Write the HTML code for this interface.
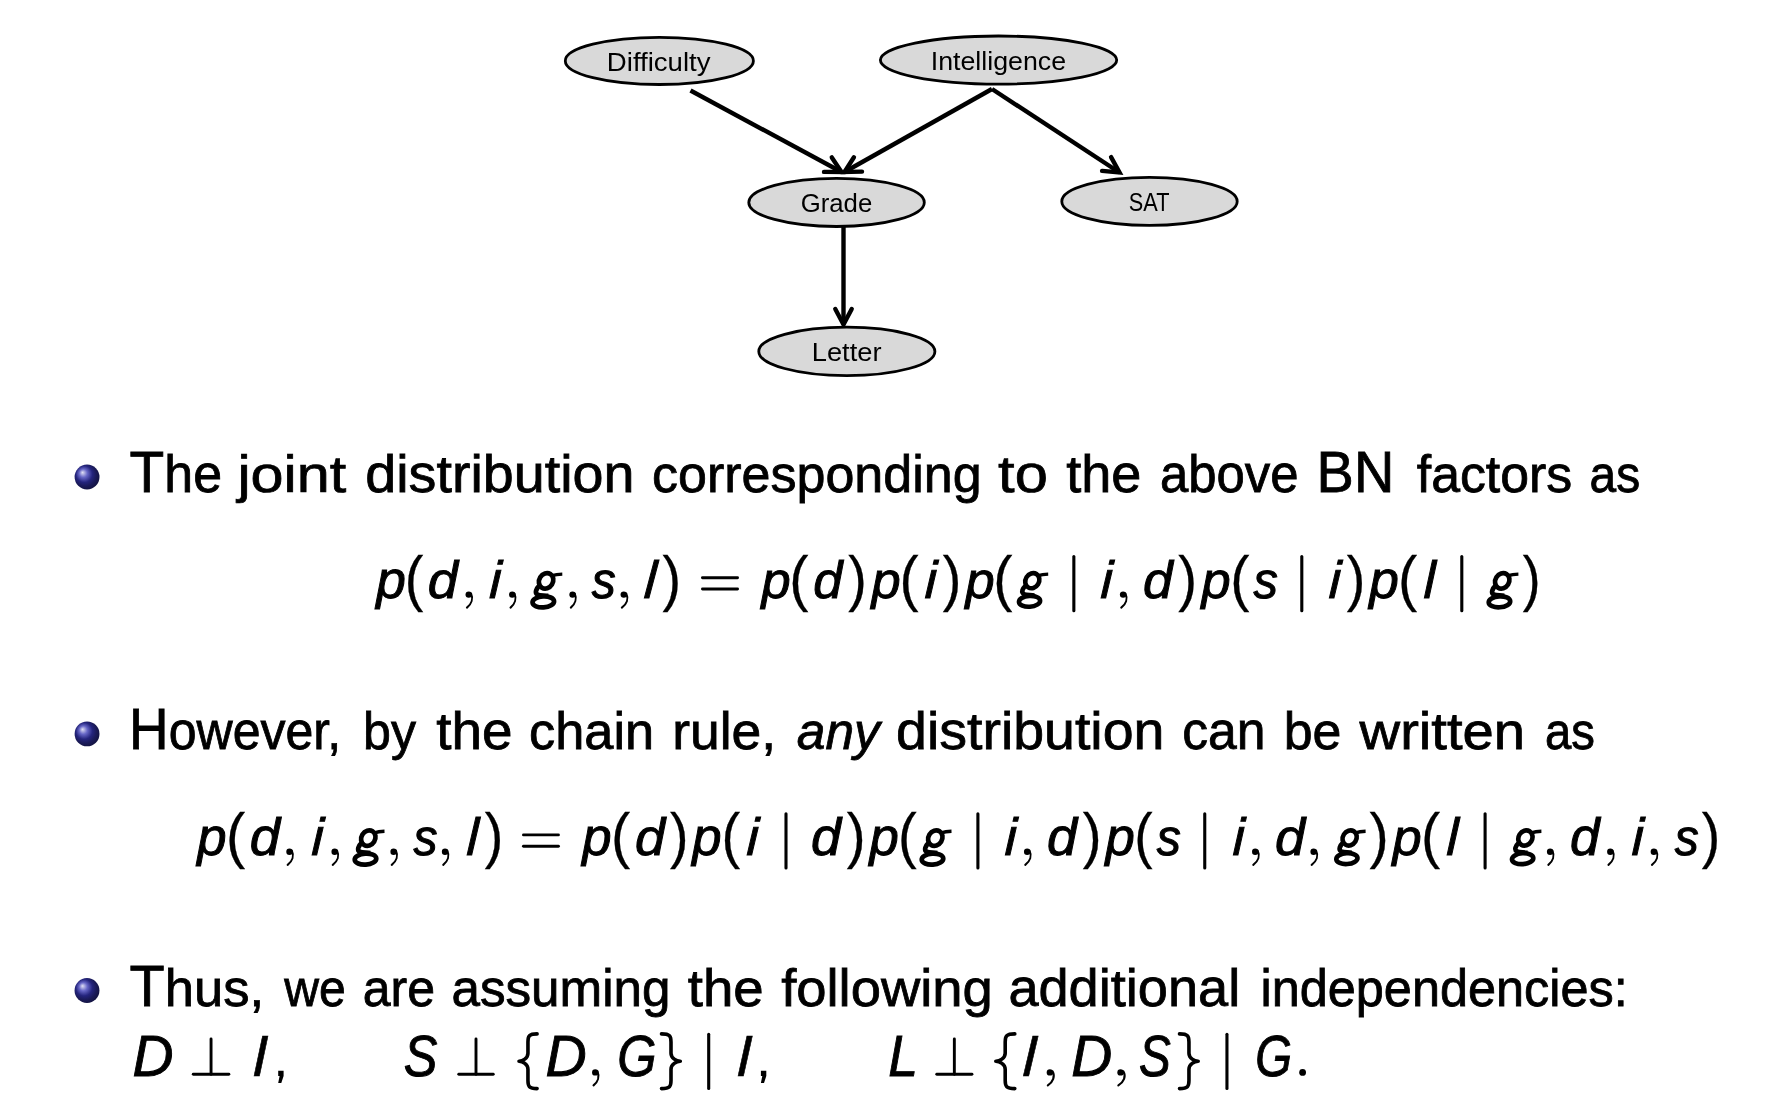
<!DOCTYPE html>
<html><head><meta charset="utf-8"><style>
html,body{margin:0;padding:0;background:#fff;width:1766px;height:1106px;overflow:hidden}
svg{display:block;will-change:transform}
text{font-family:"Liberation Sans",sans-serif;fill:#000}
text.i{font-style:italic}
</style></head><body>
<svg width="1766" height="1106" viewBox="0 0 1766 1106">
<line x1="690.50" y1="90.50" x2="841.50" y2="172.00" stroke="#000" stroke-width="4.4"/>
<polyline points="831.80,157.43 841.50,172.00 824.00,171.89" fill="none" stroke="#000" stroke-width="4.4" stroke-linecap="round" stroke-linejoin="miter"/>
<line x1="992.00" y1="89.00" x2="844.50" y2="172.00" stroke="#000" stroke-width="4.4"/>
<polyline points="862.00,171.58 844.50,172.00 853.94,157.26" fill="none" stroke="#000" stroke-width="4.4" stroke-linecap="round" stroke-linejoin="miter"/>
<line x1="992.00" y1="89.00" x2="1119.50" y2="172.50" stroke="#000" stroke-width="4.4"/>
<polyline points="1111.07,157.16 1119.50,172.50 1102.07,170.91" fill="none" stroke="#000" stroke-width="4.4" stroke-linecap="round" stroke-linejoin="miter"/>
<line x1="843.50" y1="227.00" x2="843.50" y2="324.50" stroke="#000" stroke-width="4.4"/>
<polyline points="851.72,309.05 843.50,324.50 835.28,309.05" fill="none" stroke="#000" stroke-width="4.4" stroke-linecap="round" stroke-linejoin="miter"/>
<ellipse cx="659.35" cy="60.90" rx="94.05" ry="23.60" fill="#d9d9d9" stroke="#000" stroke-width="2.8"/>
<text class="r" font-size="25" transform="matrix(1.1033 0 0 1 606.84 71.40)">Difficulty</text>
<ellipse cx="998.55" cy="60.10" rx="118.15" ry="24.10" fill="#d9d9d9" stroke="#000" stroke-width="2.8"/>
<text class="r" font-size="25" transform="matrix(1.0710 0 0 1 930.73 69.70)">Intelligence</text>
<ellipse cx="836.55" cy="202.45" rx="87.75" ry="24.05" fill="#d9d9d9" stroke="#000" stroke-width="2.8"/>
<text class="r" font-size="25" transform="matrix(1.0296 0 0 1 800.71 211.70)">Grade</text>
<ellipse cx="1149.50" cy="201.40" rx="87.70" ry="24.00" fill="#d9d9d9" stroke="#000" stroke-width="2.8"/>
<text class="r" font-size="25" transform="matrix(0.8697 0 0 1 1128.81 211.20)">SAT</text>
<ellipse cx="846.85" cy="351.40" rx="88.05" ry="24.20" fill="#d9d9d9" stroke="#000" stroke-width="2.8"/>
<text class="r" font-size="25" transform="matrix(1.0917 0 0 1 811.76 361.20)">Letter</text>
<defs><radialGradient id="ball477" gradientUnits="userSpaceOnUse" cx="87.05" cy="477.05" r="23.00" fx="82.45" fy="472.45"><stop offset="0" stop-color="#e0e0f4"/><stop offset="0.18" stop-color="#6666c6"/><stop offset="0.36" stop-color="#24247d"/><stop offset="0.5" stop-color="#1a1a59"/><stop offset="1" stop-color="#000"/></radialGradient></defs>
<circle cx="87.05" cy="477.05" r="12.45" fill="url(#ball477)"/>
<defs><radialGradient id="ball733" gradientUnits="userSpaceOnUse" cx="87.05" cy="733.9" r="23.00" fx="82.45" fy="729.30"><stop offset="0" stop-color="#e0e0f4"/><stop offset="0.18" stop-color="#6666c6"/><stop offset="0.36" stop-color="#24247d"/><stop offset="0.5" stop-color="#1a1a59"/><stop offset="1" stop-color="#000"/></radialGradient></defs>
<circle cx="87.05" cy="733.9" r="12.45" fill="url(#ball733)"/>
<defs><radialGradient id="ball990" gradientUnits="userSpaceOnUse" cx="87.0" cy="990.5" r="23.00" fx="82.40" fy="985.90"><stop offset="0" stop-color="#e0e0f4"/><stop offset="0.18" stop-color="#6666c6"/><stop offset="0.36" stop-color="#24247d"/><stop offset="0.5" stop-color="#1a1a59"/><stop offset="1" stop-color="#000"/></radialGradient></defs>
<circle cx="87.0" cy="990.5" r="12.45" fill="url(#ball990)"/>
<text class="r" font-size="52" transform="matrix(0.9970 0 0 1 129.62 492.30)" stroke="#000" stroke-width="0.80" vector-effect="non-scaling-stroke"><tspan font-size="57.0">T</tspan>he</text>
<text class="r" font-size="52" transform="matrix(1.1404 0 0 1 237.45 492.30)" stroke="#000" stroke-width="0.80" vector-effect="non-scaling-stroke">joint</text>
<text class="r" font-size="52" transform="matrix(1.0707 0 0 1 365.26 492.30)" stroke="#000" stroke-width="0.80" vector-effect="non-scaling-stroke">distribution</text>
<text class="r" font-size="52" transform="matrix(1.0004 0 0 1 651.99 492.30)" stroke="#000" stroke-width="0.80" vector-effect="non-scaling-stroke">corresponding</text>
<text class="r" font-size="52" transform="matrix(1.1486 0 0 1 998.10 492.30)" stroke="#000" stroke-width="0.80" vector-effect="non-scaling-stroke">to</text>
<text class="r" font-size="52" transform="matrix(1.0392 0 0 1 1066.18 492.30)" stroke="#000" stroke-width="0.80" vector-effect="non-scaling-stroke">the</text>
<text class="r" font-size="52" transform="matrix(0.9784 0 0 1 1159.94 492.30)" stroke="#000" stroke-width="0.80" vector-effect="non-scaling-stroke">above</text>
<text class="r" font-size="52" transform="matrix(0.9806 0 0 1 1316.62 492.30)" stroke="#000" stroke-width="0.80" vector-effect="non-scaling-stroke"><tspan font-size="57.0">BN</tspan></text>
<text class="r" font-size="52" transform="matrix(0.9965 0 0 1 1416.77 492.30)" stroke="#000" stroke-width="0.80" vector-effect="non-scaling-stroke">factors</text>
<text class="r" font-size="52" transform="matrix(0.9207 0 0 1 1589.57 492.30)" stroke="#000" stroke-width="0.80" vector-effect="non-scaling-stroke">as</text>
<text class="r" font-size="52" transform="matrix(0.9622 0 0 1 129.10 749.30)" stroke="#000" stroke-width="0.80" vector-effect="non-scaling-stroke"><tspan font-size="57.0">H</tspan>owever,</text>
<text class="r" font-size="52" transform="matrix(0.9637 0 0 1 363.07 749.30)" stroke="#000" stroke-width="0.80" vector-effect="non-scaling-stroke">by</text>
<text class="r" font-size="52" transform="matrix(1.0551 0 0 1 436.27 749.30)" stroke="#000" stroke-width="0.80" vector-effect="non-scaling-stroke">the</text>
<text class="r" font-size="52" transform="matrix(1.0065 0 0 1 529.08 749.30)" stroke="#000" stroke-width="0.80" vector-effect="non-scaling-stroke">chain</text>
<text class="r" font-size="52" transform="matrix(1.0287 0 0 1 672.15 749.30)" stroke="#000" stroke-width="0.80" vector-effect="non-scaling-stroke">rule,</text>
<text class="i" font-size="52" transform="matrix(0.9896 0 0 1 796.84 749.30)" stroke="#000" stroke-width="0.80" vector-effect="non-scaling-stroke">any</text>
<text class="r" font-size="52" transform="matrix(1.0675 0 0 1 896.07 749.30)" stroke="#000" stroke-width="0.80" vector-effect="non-scaling-stroke">distribution</text>
<text class="r" font-size="52" transform="matrix(0.9942 0 0 1 1182.20 749.30)" stroke="#000" stroke-width="0.80" vector-effect="non-scaling-stroke">can</text>
<text class="r" font-size="52" transform="matrix(0.9985 0 0 1 1283.75 749.30)" stroke="#000" stroke-width="0.80" vector-effect="non-scaling-stroke">be</text>
<text class="r" font-size="52" transform="matrix(1.0804 0 0 1 1359.58 749.30)" stroke="#000" stroke-width="0.80" vector-effect="non-scaling-stroke">written</text>
<text class="r" font-size="52" transform="matrix(0.9089 0 0 1 1544.89 749.30)" stroke="#000" stroke-width="0.80" vector-effect="non-scaling-stroke">as</text>
<text class="r" font-size="52" transform="matrix(1.0106 0 0 1 129.51 1006.10)" stroke="#000" stroke-width="0.80" vector-effect="non-scaling-stroke"><tspan font-size="57.0">T</tspan>hus,</text>
<text class="r" font-size="52" transform="matrix(0.9262 0 0 1 284.27 1006.10)" stroke="#000" stroke-width="0.80" vector-effect="non-scaling-stroke">we</text>
<text class="r" font-size="52" transform="matrix(0.9627 0 0 1 362.77 1006.10)" stroke="#000" stroke-width="0.80" vector-effect="non-scaling-stroke">are</text>
<text class="r" font-size="52" transform="matrix(0.9848 0 0 1 451.42 1006.10)" stroke="#000" stroke-width="0.80" vector-effect="non-scaling-stroke">assuming</text>
<text class="r" font-size="52" transform="matrix(1.0507 0 0 1 687.77 1006.10)" stroke="#000" stroke-width="0.80" vector-effect="non-scaling-stroke">the</text>
<text class="r" font-size="52" transform="matrix(1.0467 0 0 1 781.13 1006.10)" stroke="#000" stroke-width="0.80" vector-effect="non-scaling-stroke">following</text>
<text class="r" font-size="52" transform="matrix(1.0413 0 0 1 1008.40 1006.10)" stroke="#000" stroke-width="0.80" vector-effect="non-scaling-stroke">additional</text>
<text class="r" font-size="52" transform="matrix(0.9700 0 0 1 1260.43 1006.10)" stroke="#000" stroke-width="0.80" vector-effect="non-scaling-stroke">independencies:</text>
<text class="i" font-size="52.5" transform="matrix(1.0134 0 0 1 376.22 598.00)" stroke="#000" stroke-width="1.00" vector-effect="non-scaling-stroke">p</text>
<text class="r" font-size="1" transform="matrix(55.8203 0 0 61.5044 404.84 599.27)" stroke="#000" stroke-width="0.30" vector-effect="non-scaling-stroke">(</text>
<text class="i" font-size="52.5" transform="matrix(1.0342 0 0 1 427.67 598.00)" stroke="#000" stroke-width="1.00" vector-effect="non-scaling-stroke">d</text>
<circle cx="468.73" cy="594.60" r="3.2" fill="#000"/>
<path d="M471.00,593.50 C473.34,598.50 471.57,604.00 466.96,607.60" fill="none" stroke="#000" stroke-width="2.1" stroke-linecap="round"/>
<text class="i" font-size="52.5" transform="matrix(1 0 -0.0395 1 489.05 598.00)" stroke="#000" stroke-width="1.00" vector-effect="non-scaling-stroke">i</text>
<circle cx="512.24" cy="594.60" r="3.2" fill="#000"/>
<path d="M514.42,593.50 C516.66,598.50 514.96,604.00 510.54,607.60" fill="none" stroke="#000" stroke-width="2.1" stroke-linecap="round"/>
<ellipse cx="546.10" cy="580.90" rx="6.90" ry="8.00" transform="rotate(32 546.10 580.90)" fill="none" stroke="#000" stroke-width="4.70"/>
<path d="M551.10,575.90 C555.10,574.70 558.10,574.20 562.30,574.10" fill="none" stroke="#000" stroke-width="3.40"/>
<path d="M539.70,585.30 C536.10,588.80 534.40,592.80 537.60,594.60 C540.10,595.60 544.10,595.30 548.10,595.90" fill="none" stroke="#000" stroke-width="4.70"/>
<ellipse cx="543.30" cy="601.90" rx="10.80" ry="5.50" transform="rotate(-4 543.30 601.90)" fill="none" stroke="#000" stroke-width="4.70"/>
<circle cx="572.54" cy="594.60" r="3.2" fill="#000"/>
<path d="M574.72,593.50 C576.96,598.50 575.26,604.00 570.84,607.60" fill="none" stroke="#000" stroke-width="2.1" stroke-linecap="round"/>
<text class="i" font-size="52.5" transform="matrix(0.9143 0 0 1 591.68 598.00)" stroke="#000" stroke-width="1.00" vector-effect="non-scaling-stroke">s</text>
<circle cx="623.78" cy="594.60" r="3.2" fill="#000"/>
<path d="M626.21,593.50 C628.72,598.50 626.82,604.00 621.88,607.60" fill="none" stroke="#000" stroke-width="2.1" stroke-linecap="round"/>
<text class="i" font-size="52.5" transform="matrix(1 0 -0.0711 1 643.45 598.00)" stroke="#000" stroke-width="1.00" vector-effect="non-scaling-stroke">l</text>
<text class="r" font-size="1" transform="matrix(55.8203 0 0 61.5044 662.57 599.27)" stroke="#000" stroke-width="0.30" vector-effect="non-scaling-stroke">)</text>
<line x1="702.45" y1="577.70" x2="737.55" y2="577.70" stroke="#000" stroke-width="2.9" stroke-linecap="round"/>
<line x1="702.45" y1="589.05" x2="737.55" y2="589.05" stroke="#000" stroke-width="2.9" stroke-linecap="round"/>
<text class="i" font-size="52.5" transform="matrix(0.9995 0 0 1 761.61 598.00)" stroke="#000" stroke-width="1.00" vector-effect="non-scaling-stroke">p</text>
<text class="r" font-size="1" transform="matrix(57.7061 0 0 61.5044 789.32 599.27)" stroke="#000" stroke-width="0.30" vector-effect="non-scaling-stroke">(</text>
<text class="i" font-size="52.5" transform="matrix(0.9995 0 0 1 813.23 598.00)" stroke="#000" stroke-width="1.00" vector-effect="non-scaling-stroke">d</text>
<text class="r" font-size="1" transform="matrix(55.8203 0 0 61.5044 848.27 599.27)" stroke="#000" stroke-width="0.30" vector-effect="non-scaling-stroke">)</text>
<text class="i" font-size="52.5" transform="matrix(0.9995 0 0 1 871.51 598.00)" stroke="#000" stroke-width="1.00" vector-effect="non-scaling-stroke">p</text>
<text class="r" font-size="1" transform="matrix(57.3289 0 0 61.5044 899.44 599.27)" stroke="#000" stroke-width="0.30" vector-effect="non-scaling-stroke">(</text>
<text class="i" font-size="52.5" transform="matrix(1 0 -0.0395 1 924.45 598.00)" stroke="#000" stroke-width="1.00" vector-effect="non-scaling-stroke">i</text>
<text class="r" font-size="1" transform="matrix(55.8203 0 0 61.5044 942.67 599.27)" stroke="#000" stroke-width="0.30" vector-effect="non-scaling-stroke">)</text>
<text class="i" font-size="52.5" transform="matrix(0.9995 0 0 1 965.61 598.00)" stroke="#000" stroke-width="1.00" vector-effect="non-scaling-stroke">p</text>
<text class="r" font-size="1" transform="matrix(57.7061 0 0 61.5044 993.32 599.27)" stroke="#000" stroke-width="0.30" vector-effect="non-scaling-stroke">(</text>
<ellipse cx="1032.30" cy="580.72" rx="6.77" ry="7.85" transform="rotate(32 1032.30 580.72)" fill="none" stroke="#000" stroke-width="4.61"/>
<path d="M1037.21,575.81 C1041.14,574.64 1044.08,574.15 1048.20,574.05" fill="none" stroke="#000" stroke-width="3.34"/>
<path d="M1026.02,585.04 C1022.49,588.47 1020.82,592.40 1023.96,594.17 C1026.41,595.15 1030.34,594.85 1034.27,595.44" fill="none" stroke="#000" stroke-width="4.61"/>
<ellipse cx="1029.55" cy="601.33" rx="10.60" ry="5.40" transform="rotate(-4 1029.55 601.33)" fill="none" stroke="#000" stroke-width="4.61"/>
<line x1="1073.85" y1="556.50" x2="1073.85" y2="610.70" stroke="#000" stroke-width="3.1" stroke-linecap="round"/>
<text class="i" font-size="52.5" transform="matrix(1 0 -0.0421 1 1100.15 598.00)" stroke="#000" stroke-width="1.00" vector-effect="non-scaling-stroke">i</text>
<circle cx="1123.09" cy="594.60" r="3.2" fill="#000"/>
<path d="M1125.43,593.50 C1127.84,598.50 1126.01,604.00 1121.27,607.60" fill="none" stroke="#000" stroke-width="2.1" stroke-linecap="round"/>
<text class="i" font-size="52.5" transform="matrix(1.0169 0 0 1 1142.90 598.00)" stroke="#000" stroke-width="1.00" vector-effect="non-scaling-stroke">d</text>
<text class="r" font-size="1" transform="matrix(56.5746 0 0 61.5044 1178.27 599.27)" stroke="#000" stroke-width="0.30" vector-effect="non-scaling-stroke">)</text>
<text class="i" font-size="52.5" transform="matrix(0.9995 0 0 1 1201.61 598.00)" stroke="#000" stroke-width="1.00" vector-effect="non-scaling-stroke">p</text>
<text class="r" font-size="1" transform="matrix(57.7061 0 0 61.5044 1230.22 599.27)" stroke="#000" stroke-width="0.30" vector-effect="non-scaling-stroke">(</text>
<text class="i" font-size="52.5" transform="matrix(0.9303 0 0 1 1253.58 598.00)" stroke="#000" stroke-width="1.00" vector-effect="non-scaling-stroke">s</text>
<line x1="1301.80" y1="556.50" x2="1301.80" y2="610.70" stroke="#000" stroke-width="3.1" stroke-linecap="round"/>
<text class="i" font-size="52.5" transform="matrix(1 0 -0.0421 1 1328.45 598.00)" stroke="#000" stroke-width="1.00" vector-effect="non-scaling-stroke">i</text>
<text class="r" font-size="1" transform="matrix(55.8203 0 0 61.5044 1346.77 599.27)" stroke="#000" stroke-width="0.30" vector-effect="non-scaling-stroke">)</text>
<text class="i" font-size="52.5" transform="matrix(1.0134 0 0 1 1369.32 598.00)" stroke="#000" stroke-width="1.00" vector-effect="non-scaling-stroke">p</text>
<text class="r" font-size="1" transform="matrix(57.7061 0 0 61.5044 1397.92 599.27)" stroke="#000" stroke-width="0.30" vector-effect="non-scaling-stroke">(</text>
<text class="i" font-size="52.5" transform="matrix(1 0 -0.0211 1 1423.55 598.00)" stroke="#000" stroke-width="1.00" vector-effect="non-scaling-stroke">l</text>
<line x1="1461.80" y1="556.50" x2="1461.80" y2="610.70" stroke="#000" stroke-width="3.1" stroke-linecap="round"/>
<ellipse cx="1502.25" cy="580.87" rx="6.88" ry="7.98" transform="rotate(32 1502.25 580.87)" fill="none" stroke="#000" stroke-width="4.69"/>
<path d="M1507.23,575.89 C1511.22,574.69 1514.21,574.19 1518.40,574.09" fill="none" stroke="#000" stroke-width="3.39"/>
<path d="M1495.87,585.26 C1492.28,588.75 1490.59,592.73 1493.78,594.53 C1496.27,595.52 1500.26,595.23 1504.24,595.82" fill="none" stroke="#000" stroke-width="4.69"/>
<ellipse cx="1499.46" cy="601.81" rx="10.77" ry="5.48" transform="rotate(-4 1499.46 601.81)" fill="none" stroke="#000" stroke-width="4.69"/>
<text class="r" font-size="1" transform="matrix(53.5573 0 0 61.5044 1522.69 599.27)" stroke="#000" stroke-width="0.30" vector-effect="non-scaling-stroke">)</text>
<text class="i" font-size="52.5" transform="matrix(1.0030 0 0 1 197.31 855.20)" stroke="#000" stroke-width="1.00" vector-effect="non-scaling-stroke">p</text>
<text class="r" font-size="1" transform="matrix(57.7061 0 0 61.5044 225.92 856.47)" stroke="#000" stroke-width="0.30" vector-effect="non-scaling-stroke">(</text>
<text class="i" font-size="52.5" transform="matrix(1.0377 0 0 1 249.76 855.20)" stroke="#000" stroke-width="1.00" vector-effect="non-scaling-stroke">d</text>
<circle cx="289.49" cy="851.80" r="3.2" fill="#000"/>
<path d="M291.83,850.70 C294.24,855.70 292.41,861.20 287.67,864.80" fill="none" stroke="#000" stroke-width="2.1" stroke-linecap="round"/>
<text class="i" font-size="52.5" transform="matrix(1 0 -0.0395 1 311.25 855.20)" stroke="#000" stroke-width="1.00" vector-effect="non-scaling-stroke">i</text>
<circle cx="334.65" cy="851.80" r="3.2" fill="#000"/>
<path d="M337.05,850.70 C339.52,855.70 337.65,861.20 332.77,864.80" fill="none" stroke="#000" stroke-width="2.1" stroke-linecap="round"/>
<ellipse cx="368.30" cy="838.10" rx="6.90" ry="8.00" transform="rotate(32 368.30 838.10)" fill="none" stroke="#000" stroke-width="4.70"/>
<path d="M373.30,833.10 C377.30,831.90 380.30,831.40 384.50,831.30" fill="none" stroke="#000" stroke-width="3.40"/>
<path d="M361.90,842.50 C358.30,846.00 356.60,850.00 359.80,851.80 C362.30,852.80 366.30,852.50 370.30,853.10" fill="none" stroke="#000" stroke-width="4.70"/>
<ellipse cx="365.50" cy="859.10" rx="10.80" ry="5.50" transform="rotate(-4 365.50 859.10)" fill="none" stroke="#000" stroke-width="4.70"/>
<circle cx="393.59" cy="851.80" r="3.2" fill="#000"/>
<path d="M395.93,850.70 C398.33,855.70 396.51,861.20 391.76,864.80" fill="none" stroke="#000" stroke-width="2.1" stroke-linecap="round"/>
<text class="i" font-size="52.5" transform="matrix(0.9143 0 0 1 413.38 855.20)" stroke="#000" stroke-width="1.00" vector-effect="non-scaling-stroke">s</text>
<circle cx="445.03" cy="851.80" r="3.2" fill="#000"/>
<path d="M447.30,850.70 C449.64,855.70 447.87,861.20 443.25,864.80" fill="none" stroke="#000" stroke-width="2.1" stroke-linecap="round"/>
<text class="i" font-size="52.5" transform="matrix(1 0 -0.0395 1 466.15 855.20)" stroke="#000" stroke-width="1.00" vector-effect="non-scaling-stroke">l</text>
<text class="r" font-size="1" transform="matrix(55.8203 0 0 61.5044 484.77 856.47)" stroke="#000" stroke-width="0.30" vector-effect="non-scaling-stroke">)</text>
<line x1="523.45" y1="834.90" x2="558.45" y2="834.90" stroke="#000" stroke-width="2.9" stroke-linecap="round"/>
<line x1="523.45" y1="846.25" x2="558.45" y2="846.25" stroke="#000" stroke-width="2.9" stroke-linecap="round"/>
<text class="i" font-size="52.5" transform="matrix(1.0030 0 0 1 582.21 855.20)" stroke="#000" stroke-width="1.00" vector-effect="non-scaling-stroke">p</text>
<text class="r" font-size="1" transform="matrix(57.7061 0 0 61.5044 611.02 856.47)" stroke="#000" stroke-width="0.30" vector-effect="non-scaling-stroke">(</text>
<text class="i" font-size="52.5" transform="matrix(1.0308 0 0 1 634.88 855.20)" stroke="#000" stroke-width="1.00" vector-effect="non-scaling-stroke">d</text>
<text class="r" font-size="1" transform="matrix(55.4431 0 0 61.5044 669.98 856.47)" stroke="#000" stroke-width="0.30" vector-effect="non-scaling-stroke">)</text>
<text class="i" font-size="52.5" transform="matrix(1.0030 0 0 1 692.31 855.20)" stroke="#000" stroke-width="1.00" vector-effect="non-scaling-stroke">p</text>
<text class="r" font-size="1" transform="matrix(56.1974 0 0 61.5044 721.52 856.47)" stroke="#000" stroke-width="0.30" vector-effect="non-scaling-stroke">(</text>
<text class="i" font-size="52.5" transform="matrix(1 0 -0.0421 1 746.35 855.20)" stroke="#000" stroke-width="1.00" vector-effect="non-scaling-stroke">i</text>
<line x1="786.00" y1="813.70" x2="786.00" y2="867.90" stroke="#000" stroke-width="3.1" stroke-linecap="round"/>
<text class="i" font-size="52.5" transform="matrix(1.0273 0 0 1 810.98 855.20)" stroke="#000" stroke-width="1.00" vector-effect="non-scaling-stroke">d</text>
<text class="r" font-size="1" transform="matrix(56.5746 0 0 61.5044 846.77 856.47)" stroke="#000" stroke-width="0.30" vector-effect="non-scaling-stroke">)</text>
<text class="i" font-size="52.5" transform="matrix(1.0030 0 0 1 869.61 855.20)" stroke="#000" stroke-width="1.00" vector-effect="non-scaling-stroke">p</text>
<text class="r" font-size="1" transform="matrix(56.1974 0 0 61.5044 898.02 856.47)" stroke="#000" stroke-width="0.30" vector-effect="non-scaling-stroke">(</text>
<ellipse cx="935.30" cy="838.10" rx="6.90" ry="8.00" transform="rotate(32 935.30 838.10)" fill="none" stroke="#000" stroke-width="4.70"/>
<path d="M940.30,833.10 C944.30,831.90 947.30,831.40 951.50,831.30" fill="none" stroke="#000" stroke-width="3.40"/>
<path d="M928.90,842.50 C925.30,846.00 923.60,850.00 926.80,851.80 C929.30,852.80 933.30,852.50 937.30,853.10" fill="none" stroke="#000" stroke-width="4.70"/>
<ellipse cx="932.50" cy="859.10" rx="10.80" ry="5.50" transform="rotate(-4 932.50 859.10)" fill="none" stroke="#000" stroke-width="4.70"/>
<line x1="977.90" y1="813.70" x2="977.90" y2="867.90" stroke="#000" stroke-width="3.1" stroke-linecap="round"/>
<text class="i" font-size="52.5" transform="matrix(1 0 -0.0342 1 1004.55 855.20)" stroke="#000" stroke-width="1.00" vector-effect="non-scaling-stroke">i</text>
<circle cx="1027.15" cy="851.80" r="3.2" fill="#000"/>
<path d="M1029.55,850.70 C1032.03,855.70 1030.15,861.20 1025.28,864.80" fill="none" stroke="#000" stroke-width="2.1" stroke-linecap="round"/>
<text class="i" font-size="52.5" transform="matrix(1.0273 0 0 1 1046.88 855.20)" stroke="#000" stroke-width="1.00" vector-effect="non-scaling-stroke">d</text>
<text class="r" font-size="1" transform="matrix(56.5746 0 0 61.5044 1082.67 856.47)" stroke="#000" stroke-width="0.30" vector-effect="non-scaling-stroke">)</text>
<text class="i" font-size="52.5" transform="matrix(1.0030 0 0 1 1105.61 855.20)" stroke="#000" stroke-width="1.00" vector-effect="non-scaling-stroke">p</text>
<text class="r" font-size="1" transform="matrix(55.0659 0 0 61.5044 1134.29 856.47)" stroke="#000" stroke-width="0.30" vector-effect="non-scaling-stroke">(</text>
<text class="i" font-size="52.5" transform="matrix(0.9183 0 0 1 1156.78 855.20)" stroke="#000" stroke-width="1.00" vector-effect="non-scaling-stroke">s</text>
<line x1="1204.75" y1="813.70" x2="1204.75" y2="867.90" stroke="#000" stroke-width="3.1" stroke-linecap="round"/>
<text class="i" font-size="52.5" transform="matrix(1 0 -0.0290 1 1232.55 855.20)" stroke="#000" stroke-width="1.00" vector-effect="non-scaling-stroke">i</text>
<circle cx="1255.21" cy="851.80" r="3.2" fill="#000"/>
<path d="M1257.67,850.70 C1260.21,855.70 1258.29,861.20 1253.29,864.80" fill="none" stroke="#000" stroke-width="2.1" stroke-linecap="round"/>
<text class="i" font-size="52.5" transform="matrix(1.0308 0 0 1 1274.88 855.20)" stroke="#000" stroke-width="1.00" vector-effect="non-scaling-stroke">d</text>
<circle cx="1313.61" cy="851.80" r="3.2" fill="#000"/>
<path d="M1316.07,850.70 C1318.62,855.70 1316.69,861.20 1311.68,864.80" fill="none" stroke="#000" stroke-width="2.1" stroke-linecap="round"/>
<ellipse cx="1349.65" cy="837.95" rx="6.79" ry="7.88" transform="rotate(32 1349.65 837.95)" fill="none" stroke="#000" stroke-width="4.63"/>
<path d="M1354.57,833.03 C1358.51,831.85 1361.47,831.36 1365.60,831.26" fill="none" stroke="#000" stroke-width="3.35"/>
<path d="M1343.35,842.28 C1339.81,845.73 1338.13,849.67 1341.28,851.44 C1343.75,852.42 1347.68,852.13 1351.62,852.72" fill="none" stroke="#000" stroke-width="4.63"/>
<ellipse cx="1346.90" cy="858.63" rx="10.63" ry="5.41" transform="rotate(-4 1346.90 858.63)" fill="none" stroke="#000" stroke-width="4.63"/>
<text class="r" font-size="1" transform="matrix(57.7061 0 0 61.5044 1369.56 856.47)" stroke="#000" stroke-width="0.30" vector-effect="non-scaling-stroke">)</text>
<text class="i" font-size="52.5" transform="matrix(0.9995 0 0 1 1392.51 855.20)" stroke="#000" stroke-width="1.00" vector-effect="non-scaling-stroke">p</text>
<text class="r" font-size="1" transform="matrix(57.7061 0 0 61.5044 1421.02 856.47)" stroke="#000" stroke-width="0.30" vector-effect="non-scaling-stroke">(</text>
<text class="i" font-size="52.5" transform="matrix(1 0 -0.0290 1 1446.35 855.20)" stroke="#000" stroke-width="1.00" vector-effect="non-scaling-stroke">l</text>
<line x1="1485.10" y1="813.70" x2="1485.10" y2="867.90" stroke="#000" stroke-width="3.1" stroke-linecap="round"/>
<ellipse cx="1525.40" cy="837.98" rx="6.81" ry="7.90" transform="rotate(32 1525.40 837.98)" fill="none" stroke="#000" stroke-width="4.64"/>
<path d="M1530.34,833.04 C1534.29,831.86 1537.25,831.36 1541.40,831.27" fill="none" stroke="#000" stroke-width="3.36"/>
<path d="M1519.08,842.33 C1515.53,845.78 1513.85,849.73 1517.01,851.51 C1519.48,852.50 1523.43,852.20 1527.38,852.80" fill="none" stroke="#000" stroke-width="4.64"/>
<ellipse cx="1522.64" cy="858.72" rx="10.67" ry="5.43" transform="rotate(-4 1522.64 858.72)" fill="none" stroke="#000" stroke-width="4.64"/>
<circle cx="1550.13" cy="851.80" r="3.2" fill="#000"/>
<path d="M1552.40,850.70 C1554.74,855.70 1552.97,861.20 1548.36,864.80" fill="none" stroke="#000" stroke-width="2.1" stroke-linecap="round"/>
<text class="i" font-size="52.5" transform="matrix(1.0134 0 0 1 1570.01 855.20)" stroke="#000" stroke-width="1.00" vector-effect="non-scaling-stroke">d</text>
<circle cx="1610.29" cy="851.80" r="3.2" fill="#000"/>
<path d="M1612.63,850.70 C1615.04,855.70 1613.21,861.20 1608.46,864.80" fill="none" stroke="#000" stroke-width="2.1" stroke-linecap="round"/>
<text class="i" font-size="52.5" transform="matrix(1 0 -0.0290 1 1631.55 855.20)" stroke="#000" stroke-width="1.00" vector-effect="non-scaling-stroke">i</text>
<circle cx="1653.85" cy="851.80" r="3.2" fill="#000"/>
<path d="M1656.25,850.70 C1658.72,855.70 1656.85,861.20 1651.97,864.80" fill="none" stroke="#000" stroke-width="2.1" stroke-linecap="round"/>
<text class="i" font-size="52.5" transform="matrix(0.9143 0 0 1 1674.78 855.20)" stroke="#000" stroke-width="1.00" vector-effect="non-scaling-stroke">s</text>
<text class="r" font-size="1" transform="matrix(55.4431 0 0 61.5044 1701.78 856.47)" stroke="#000" stroke-width="0.30" vector-effect="non-scaling-stroke">)</text>
<text class="i" font-size="58" transform="matrix(0.9782 0 0 1 132.55 1075.80)" stroke="#000" stroke-width="0.90" vector-effect="non-scaling-stroke">D</text>
<line x1="193.25" y1="1074.30" x2="228.85" y2="1074.30" stroke="#000" stroke-width="2.9" stroke-linecap="round"/>
<line x1="211.05" y1="1039.00" x2="211.05" y2="1074.30" stroke="#000" stroke-width="2.9" stroke-linecap="round"/>
<text class="i" font-size="58" transform="matrix(1 0 -0.0183 1 251.81 1075.80)" stroke="#000" stroke-width="0.60" vector-effect="non-scaling-stroke">I</text>
<path d="M278.20,1070.70 L283.60,1070.70 L283.60,1076.10 L281.30,1083.00 L278.20,1083.00 L279.60,1076.10 L278.20,1076.10 Z" fill="#000"/>
<text class="i" font-size="58" transform="matrix(0.8704 0 0 1 403.77 1075.80)" stroke="#000" stroke-width="0.90" vector-effect="non-scaling-stroke">S</text>
<line x1="458.75" y1="1074.30" x2="493.25" y2="1074.30" stroke="#000" stroke-width="2.9" stroke-linecap="round"/>
<line x1="476.00" y1="1039.00" x2="476.00" y2="1074.30" stroke="#000" stroke-width="2.9" stroke-linecap="round"/>
<path d="M537.10,1033.90 C528.87,1033.90 527.95,1036.40 527.95,1041.90 L527.95,1053.25 C527.95,1058.25 522.58,1061.25 519.00,1061.25 C522.58,1061.25 527.95,1064.25 527.95,1069.25 L527.95,1080.60 C527.95,1086.10 528.87,1088.60 537.10,1088.60" fill="none" stroke="#000" stroke-width="3.6" stroke-linecap="round" stroke-linejoin="round"/>
<text class="i" font-size="58" transform="matrix(0.9835 0 0 1 545.45 1075.80)" stroke="#000" stroke-width="0.90" vector-effect="non-scaling-stroke">D</text>
<circle cx="595.24" cy="1072.40" r="3.2" fill="#000"/>
<path d="M597.42,1071.30 C599.66,1076.30 597.96,1081.80 593.54,1085.40" fill="none" stroke="#000" stroke-width="2.1" stroke-linecap="round"/>
<text class="i" font-size="58" transform="matrix(0.8702 0 0 1 617.21 1075.80)" stroke="#000" stroke-width="0.90" vector-effect="non-scaling-stroke">G</text>
<path d="M661.50,1033.90 C670.05,1033.90 671.00,1036.40 671.00,1041.90 L671.00,1053.25 C671.00,1058.25 676.58,1061.25 680.30,1061.25 C676.58,1061.25 671.00,1064.25 671.00,1069.25 L671.00,1080.60 C671.00,1086.10 670.05,1088.60 661.50,1088.60" fill="none" stroke="#000" stroke-width="3.6" stroke-linecap="round" stroke-linejoin="round"/>
<line x1="708.70" y1="1034.30" x2="708.70" y2="1088.50" stroke="#000" stroke-width="3.1" stroke-linecap="round"/>
<text class="i" font-size="58" transform="matrix(1 0 -0.0283 1 735.81 1075.80)" stroke="#000" stroke-width="0.60" vector-effect="non-scaling-stroke">I</text>
<path d="M760.90,1070.70 L766.30,1070.70 L766.30,1076.10 L764.00,1083.00 L760.90,1083.00 L762.30,1076.10 L760.90,1076.10 Z" fill="#000"/>
<text class="i" font-size="58" transform="matrix(0.9234 0 0 1 888.35 1075.80)" stroke="#000" stroke-width="0.90" vector-effect="non-scaling-stroke">L</text>
<line x1="936.75" y1="1074.30" x2="971.95" y2="1074.30" stroke="#000" stroke-width="2.9" stroke-linecap="round"/>
<line x1="954.35" y1="1039.00" x2="954.35" y2="1074.30" stroke="#000" stroke-width="2.9" stroke-linecap="round"/>
<path d="M1014.80,1033.90 C1006.16,1033.90 1005.20,1036.40 1005.20,1041.90 L1005.20,1053.25 C1005.20,1058.25 999.56,1061.25 995.80,1061.25 C999.56,1061.25 1005.20,1064.25 1005.20,1069.25 L1005.20,1080.60 C1005.20,1086.10 1006.16,1088.60 1014.80,1088.60" fill="none" stroke="#000" stroke-width="3.6" stroke-linecap="round" stroke-linejoin="round"/>
<text class="i" font-size="58" transform="matrix(1 0 -0.0434 1 1021.01 1075.80)" stroke="#000" stroke-width="0.60" vector-effect="non-scaling-stroke">I</text>
<circle cx="1049.89" cy="1072.40" r="3.2" fill="#000"/>
<path d="M1052.55,1071.30 C1055.29,1076.30 1053.21,1081.80 1047.82,1085.40" fill="none" stroke="#000" stroke-width="2.1" stroke-linecap="round"/>
<text class="i" font-size="58" transform="matrix(0.9782 0 0 1 1071.35 1075.80)" stroke="#000" stroke-width="0.90" vector-effect="non-scaling-stroke">D</text>
<circle cx="1120.54" cy="1072.40" r="3.2" fill="#000"/>
<path d="M1123.36,1071.30 C1126.26,1076.30 1124.06,1081.80 1118.34,1085.40" fill="none" stroke="#000" stroke-width="2.1" stroke-linecap="round"/>
<text class="i" font-size="58" transform="matrix(0.8210 0 0 1 1139.05 1075.80)" stroke="#000" stroke-width="0.90" vector-effect="non-scaling-stroke">S</text>
<path d="M1179.50,1033.90 C1188.01,1033.90 1188.95,1036.40 1188.95,1041.90 L1188.95,1053.25 C1188.95,1058.25 1194.50,1061.25 1198.20,1061.25 C1194.50,1061.25 1188.95,1064.25 1188.95,1069.25 L1188.95,1080.60 C1188.95,1086.10 1188.01,1088.60 1179.50,1088.60" fill="none" stroke="#000" stroke-width="3.6" stroke-linecap="round" stroke-linejoin="round"/>
<line x1="1226.95" y1="1034.30" x2="1226.95" y2="1088.50" stroke="#000" stroke-width="3.1" stroke-linecap="round"/>
<text class="i" font-size="58" transform="matrix(0.8149 0 0 1 1255.17 1075.80)" stroke="#000" stroke-width="0.90" vector-effect="non-scaling-stroke">G</text>
<circle cx="1302.60" cy="1072.40" r="3.4" fill="#000"/>
</svg>
</body></html>
